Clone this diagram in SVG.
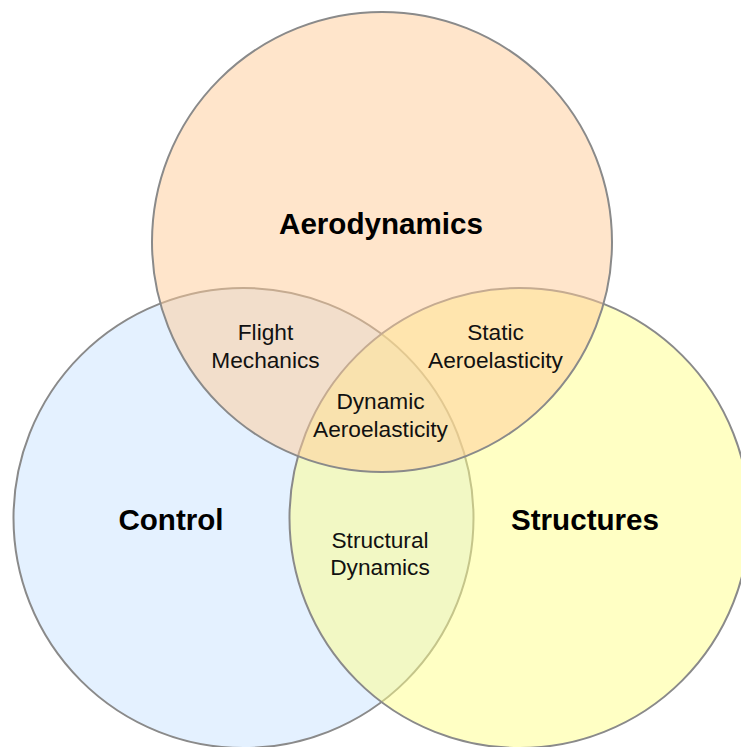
<svg xmlns="http://www.w3.org/2000/svg" width="741" height="747" viewBox="0 0 741 747">
<style>
.c{stroke:#8a8a8a;stroke-width:2;fill-opacity:0.5}
.big{font-family:"Liberation Sans",Arial,sans-serif;font-weight:bold;font-size:29.6px;fill:#000;text-anchor:middle}
.sm{font-family:"Liberation Sans",Arial,sans-serif;font-size:22.7px;fill:#111;text-anchor:middle}
</style>
<rect width="741" height="747" fill="#ffffff"/>
<g id="control">
<circle class="c" cx="243.5" cy="518" r="230" fill="#c9e3ff"/>
</g>
<g id="structures">
<circle class="c" cx="519.5" cy="518" r="230" fill="#ffff89"/>
</g>
<g id="aerodynamics">
<circle class="c" cx="382" cy="242" r="230" fill="#ffcb97"/>
</g>
<g id="labels">
<text class="big" x="381" y="234">Aerodynamics</text>
<text class="big" x="171" y="530">Control</text>
<text class="big" x="585" y="530">Structures</text>
</g>
<g id="flight-mechanics">
<text class="sm" x="265.5" y="340">Flight</text>
<text class="sm" x="265.5" y="368">Mechanics</text>
</g>
<g id="static-aeroelasticity">
<text class="sm" x="495.5" y="340">Static</text>
<text class="sm" x="495.5" y="368">Aeroelasticity</text>
</g>
<g id="dynamic-aeroelasticity">
<text class="sm" x="380.5" y="409">Dynamic</text>
<text class="sm" x="380.5" y="437">Aeroelasticity</text>
</g>
<g id="structural-dynamics">
<text class="sm" x="380" y="548">Structural</text>
<text class="sm" x="380" y="575">Dynamics</text>
</g>
</svg>
